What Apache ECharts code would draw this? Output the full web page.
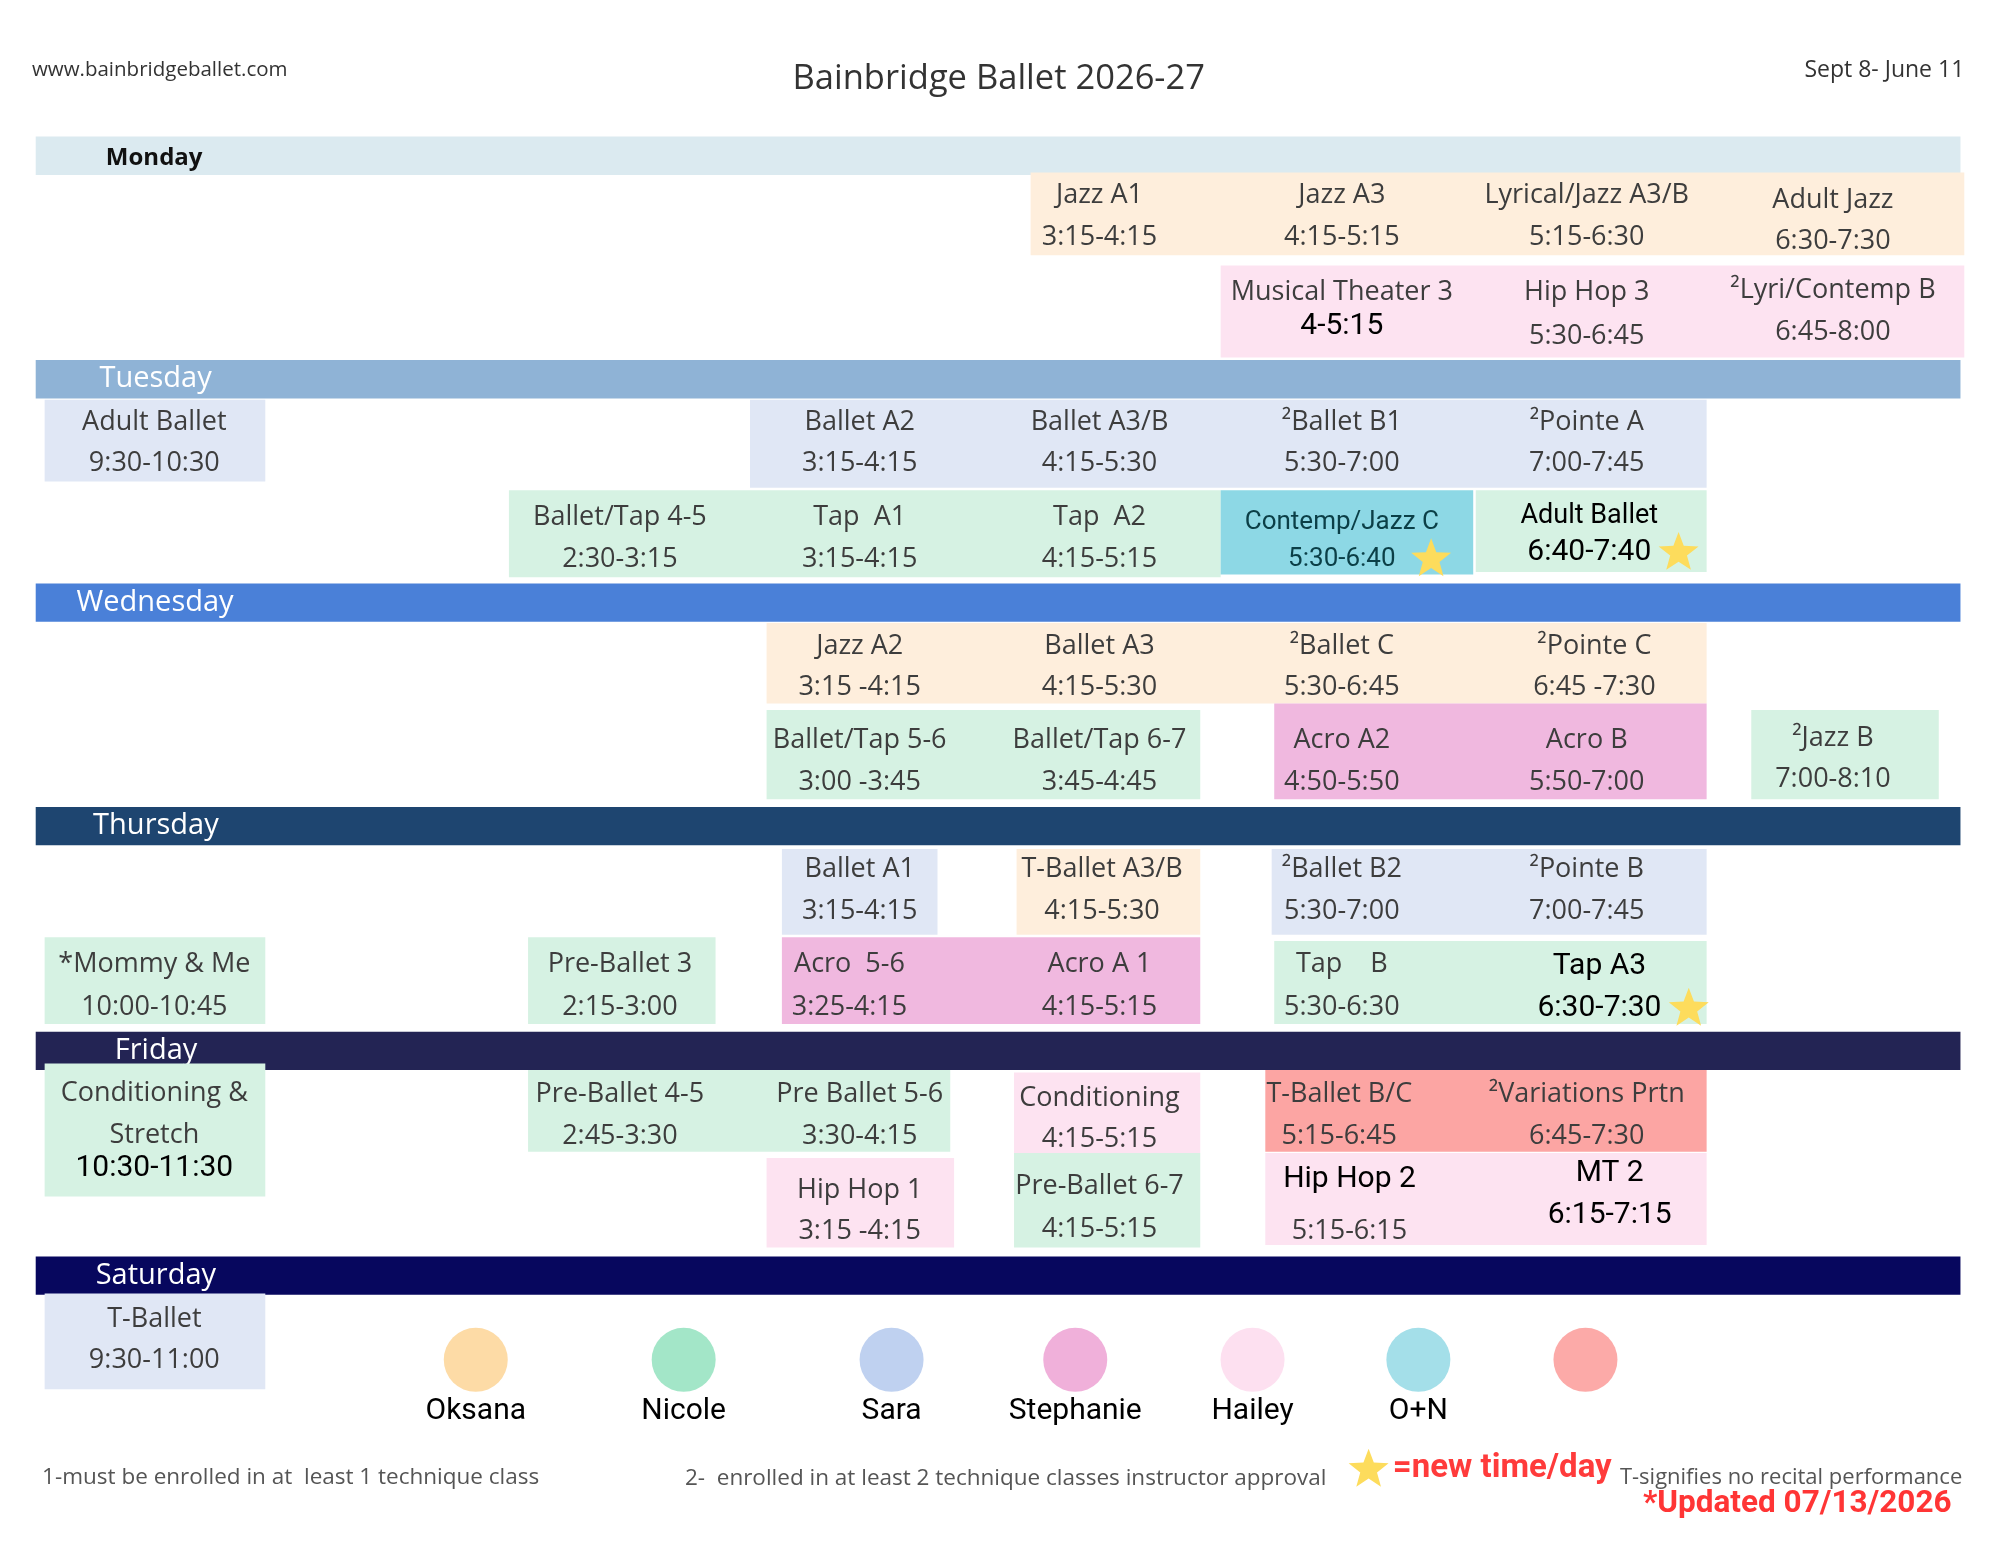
<!DOCTYPE html>
<html>
<head>
<meta charset="utf-8">
<title>Bainbridge Ballet 2026-27</title>
<script src="https://cdn.jsdelivr.net/npm/echarts@6/dist/echarts.min.js"></script>
<style>
  html, body { margin: 0; padding: 0; background: #fff; }
  #chart { width: 2000px; height: 1545px; }
</style>
</head>
<body>
<div id="chart"></div>
<script>
// everything is laid out in "sheet" units (the printed schedule, 1568 x 1210)
const SHEET_W = 1568, SHEET_H = 1210;

const days = ['Monday', 'Tuesday', 'Wednesday', 'Thursday', 'Friday', 'Saturday'];
const dayTop = [107, 282, 457, 632, 808, 984];
const dayLabelX = [83, 78, 60, 73, 90, 75];
const dayColors = ['#dbeaf0', '#8fb3d6', '#4a80d8', '#1e4570', '#232454', '#07075e'];

const teachers = ['Oksana', 'Nicole', 'Sara', 'Stephanie', 'Hailey', 'O+N', ''];
const blockColors = ['#feeedc', '#d6f2e3', '#e0e7f5', '#f0b8df', '#fde3f1', '#8dd8e5', '#fca5a3'];
const legendColors = ['#fddba6', '#a3e6c8', '#bfd1f0', '#f0b0da', '#fde0f0', '#a4dfe9', '#fcaaa8'];
const legendSlot = [373, 536, 699, 843, 982, 1112, 1243];

// coloured blocks: [start, end, top, bottom, teacher]
const blocks = [
  [808, 1540, 135, 200, 0], [957, 1540, 208, 280, 4],
  [35, 208, 313, 377, 2], [588, 1338, 313, 382, 2], [399, 957, 384, 452, 1],
  [957, 1155, 384, 450, 5], [1157, 1338, 384, 448, 1],
  [601, 1338, 488, 551, 0], [601, 941, 556, 626, 1], [999, 1338, 551, 626, 3], [1373, 1520, 556, 626, 1],
  [613, 735, 665, 732, 2], [797, 941, 665, 732, 0], [997, 1338, 665, 732, 2],
  [35, 208, 734, 802, 1], [414, 561, 734, 802, 1], [613, 941, 734, 802, 3], [999, 1338, 737, 802, 1],
  [35, 208, 833, 937, 1], [414, 745, 838, 902, 1], [795, 941, 840, 903, 4], [992, 1338, 838, 902, 6],
  [601, 748, 907, 977, 4], [795, 941, 903, 977, 1], [992, 1338, 903, 975, 4],
  [35, 208, 1013, 1088, 2]
];

// classes: [name, time, column, nameRow, timeRow, new time/day]
const classes = [
  ['Jazz A1', '3:15-4:15', 862, 153, 186, 0],
  ['Jazz A3', '4:15-5:15', 1052, 153, 186, 0],
  ['Lyrical/Jazz A3/B', '5:15-6:30', 1244, 153, 186, 0],
  ['Adult Jazz', '6:30-7:30', 1437, 157, 189, 0],
  ['Musical Theater 3', '4-5:15', 1052, 229, 256, 0],
  ['Hip Hop 3', '5:30-6:45', 1244, 229, 263, 0],
  ['²Lyri/Contemp B', '6:45-8:00', 1437, 227, 260, 0],

  ['Adult Ballet', '9:30-10:30', 121, 331, 363, 0],
  ['Ballet A2', '3:15-4:15', 674, 331, 363, 0],
  ['Ballet A3/B', '4:15-5:30', 862, 331, 363, 0],
  ['²Ballet B1', '5:30-7:00', 1052, 331, 363, 0],
  ['²Pointe A', '7:00-7:45', 1244, 331, 363, 0],
  ['Ballet/Tap 4-5', '2:30-3:15', 486, 405, 438, 0],
  ['Tap  A1', '3:15-4:15', 674, 405, 438, 0],
  ['Tap  A2', '4:15-5:15', 862, 405, 438, 0],
  ['Contemp/Jazz C', '5:30-6:40', 1052, 409, 438, 1],
  ['Adult Ballet', '6:40-7:40', 1246, 404, 433, 1],

  ['Jazz A2', '3:15 -4:15', 674, 506, 538, 0],
  ['Ballet A3', '4:15-5:30', 862, 506, 538, 0],
  ['²Ballet C', '5:30-6:45', 1052, 506, 538, 0],
  ['²Pointe C', '6:45 -7:30', 1250, 506, 538, 0],
  ['Ballet/Tap 5-6', '3:00 -3:45', 674, 580, 613, 0],
  ['Ballet/Tap 6-7', '3:45-4:45', 862, 580, 613, 0],
  ['Acro A2', '4:50-5:50', 1052, 580, 613, 0],
  ['Acro B', '5:50-7:00', 1244, 580, 613, 0],
  ['²Jazz B', '7:00-8:10', 1437, 578, 610, 0],

  ['Ballet A1', '3:15-4:15', 674, 681, 714, 0],
  ['T-Ballet A3/B', '4:15-5:30', 864, 681, 714, 0],
  ['²Ballet B2', '5:30-7:00', 1052, 681, 714, 0],
  ['²Pointe B', '7:00-7:45', 1244, 681, 714, 0],
  ['*Mommy & Me', '10:00-10:45', 121, 755, 789, 0],
  ['Pre-Ballet 3', '2:15-3:00', 486, 755, 789, 0],
  ['Acro  5-6', '3:25-4:15', 666, 755, 789, 0],
  ['Acro A 1', '4:15-5:15', 862, 755, 789, 0],
  ['Tap    B', '5:30-6:30', 1052, 755, 789, 0],
  ['Tap A3', '6:30-7:30', 1254, 757, 790, 1],

  ['Conditioning &\nStretch', '10:30-11:30', 121, 873, 915, 0],
  ['Pre-Ballet 4-5', '2:45-3:30', 486, 857, 890, 0],
  ['Pre Ballet 5-6', '3:30-4:15', 674, 857, 890, 0],
  ['Conditioning', '4:15-5:15', 862, 860, 892, 0],
  ['T-Ballet B/C', '5:15-6:45', 1050, 857, 890, 0],
  ['²Variations Prtn', '6:45-7:30', 1244, 857, 890, 0],
  ['Hip Hop 1', '3:15 -4:15', 674, 932, 964, 0],
  ['Pre-Ballet 6-7', '4:15-5:15', 862, 929, 963, 0],
  ['Hip Hop 2', '5:15-6:15', 1058, 924, 964, 0],
  ['MT 2', '6:15-7:15', 1262, 919, 952, 0],

  ['T-Ballet', '9:30-11:00', 121, 1033, 1065, 0]
];
// lines that were re-typed on the sheet (shown in black)
const editedText = ['4-5:15', 'Hip Hop 2', 'MT 2', '6:15-7:15', '10:30-11:30'];

const SANS = "'Open Sans', 'Noto Sans', sans-serif";
const ROBO = "Roboto, 'Noto Sans', sans-serif";
const GREY = '#3d3d3d';
const STAR = '#fddc5c';

const sx = 2000 / SHEET_W, sy = 1545 / SHEET_H;

function starPoints(cx, cy, R) {
  const pts = [];
  for (let i = 0; i < 10; i++) {
    const r = i % 2 ? R * 0.42 : R;
    const a = -Math.PI / 2 + i * Math.PI / 5;
    pts.push([cx + r * Math.cos(a), cy + r * Math.sin(a)]);
  }
  return pts;
}

function label(text, pos, ink, family, size, weight) {
  return {
    type: 'text',
    style: {
      text, x: pos[0], y: pos[1], fill: ink, fontFamily: family, fontSize: size,
      fontWeight: weight || 'normal', align: 'center', verticalAlign: 'middle', lineHeight: 42
    }
  };
}

function sheetText(text, x, y, align, ink, family, size, weight) {
  return {
    type: 'text', x: x * sx, y: y * sy,
    style: { text, fill: ink, fontFamily: family, fontSize: size, fontWeight: weight || 'normal', align, verticalAlign: 'middle' }
  };
}

const chart = echarts.init(document.getElementById('chart'));

chart.setOption({
  backgroundColor: '#fff',
  animation: false,
  grid: { left: 0, right: 0, top: 0, bottom: 0 },
  xAxis: { type: 'value', min: 0, max: SHEET_W, show: false },
  yAxis: { type: 'value', min: 0, max: SHEET_H, inverse: true, show: false },
  series: [
    {
      // day header bands
      type: 'custom',
      data: days.map((d, i) => [dayLabelX[i], dayTop[i]]),
      renderItem(params, api) {
        const i = params.dataIndex;
        const a = api.coord([28, dayTop[i]]);
        const b = api.coord([1537, dayTop[i] + 30]);
        const t = api.coord([dayLabelX[i], dayTop[i] + 15]);
        const first = i === 0;
        return {
          type: 'group',
          children: [
            { type: 'rect', shape: { x: a[0], y: a[1], width: b[0] - a[0], height: b[1] - a[1] }, style: { fill: dayColors[i] } },
            {
              type: 'text',
              style: {
                text: days[i], x: t[0], y: t[1] + (first ? 2 : 0), fill: first ? '#111' : '#fff',
                fontFamily: SANS, fontSize: first ? 24 : 29, fontWeight: first ? 'bold' : 'normal',
                align: 'left', verticalAlign: 'middle'
              }
            }
          ]
        };
      },
      z: 1
    },
    {
      // teacher-coloured blocks
      type: 'custom',
      data: blocks.map(b => [b[0], b[2], b[1], b[3]]),
      encode: { x: [0, 2], y: [1, 3] },
      renderItem(params, api) {
        const b = blocks[params.dataIndex];
        const a = api.coord([b[0], b[2]]);
        const c = api.coord([b[1], b[3]]);
        return {
          type: 'rect',
          shape: { x: a[0], y: a[1], width: c[0] - a[0], height: c[1] - a[1] },
          style: { fill: blockColors[b[4]] }
        };
      },
      z: 2
    },
    {
      // class names and times
      type: 'custom',
      data: classes.map(c => [c[2], c[3], c[4]]),
      encode: { x: 0, y: [1, 2] },
      renderItem(params, api) {
        const c = classes[params.dataIndex];
        const pn = api.coord([c[2], c[3]]);
        const pt = api.coord([c[2], c[4]]);
        const isNew = c[5] === 1;
        const teal = c[0] === 'Contemp/Jazz C';
        const pick = (txt, pos) => {
          if (teal) return label(txt, pos, '#0b3f47', ROBO, 26);
          if (isNew || editedText.includes(txt)) return label(txt, pos, '#000', ROBO, txt === 'Adult Ballet' ? 27 : 30);
          return label(txt, pos, GREY, SANS, 27);
        };
        const children = [pick(c[0], pn), pick(c[1], pt)];
        if (isNew) {
          const s = api.coord([c[2] + 70, c[4]]);
          children.push({ type: 'polygon', shape: { points: starPoints(s[0], s[1], 21) }, style: { fill: STAR } });
        }
        return { type: 'group', children };
      },
      z: 3
    },
    {
      // teacher key
      type: 'scatter',
      data: legendSlot.map((x, i) => ({ value: [x, 1065], name: teachers[i], itemStyle: { color: legendColors[i], opacity: 1 } })),
      symbol: 'circle',
      symbolSize: 64,
      itemStyle: { opacity: 1 },
      label: {
        show: true, position: 'bottom', distance: 5,
        formatter: p => p.name,
        color: '#000', fontFamily: ROBO, fontSize: 30
      },
      silent: true,
      z: 4
    }
  ],
  graphic: [
    sheetText('www.bainbridgeballet.com', 25, 55, 'left', '#333', SANS, 20.5),
    sheetText('Bainbridge Ballet 2026-27', 783, 62, 'center', '#333', SANS, 34.5),
    sheetText('Sept 8- June 11', 1540, 55, 'right', '#333', SANS, 23),
    sheetText('1-must be enrolled in at  least 1 technique class', 33, 1157, 'left', '#555', SANS, 22.5),
    sheetText('2-  enrolled in at least 2 technique classes instructor approval', 537, 1158, 'left', '#555', SANS, 22.5),
    { type: 'polygon', shape: { points: starPoints(1073 * sx, 1151 * sy, 21) }, style: { fill: STAR } },
    sheetText('=new time/day', 1092, 1150, 'left', '#ff3b3b', ROBO, 33, 'bold'),
    sheetText('T-signifies no recital performance', 1270, 1157, 'left', '#555', SANS, 22),
    sheetText('*Updated 07/13/2026', 1530, 1178, 'right', '#ff3535', ROBO, 31.5, 'bold')
  ]
});
</script>
</body>
</html>
